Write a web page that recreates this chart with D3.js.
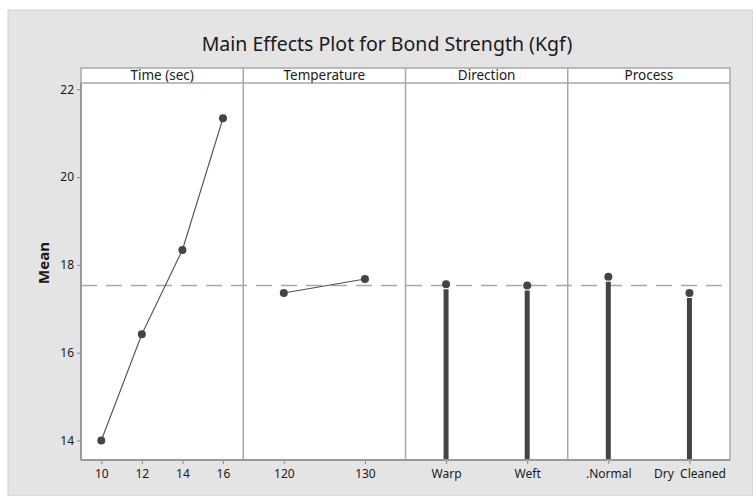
<!DOCTYPE html>
<html>
<head>
<meta charset="utf-8">
<script src="https://cdn.jsdelivr.net/npm/d3@7"></script>
<style>
  body { margin: 0; background: #fff; }
  text { font-family: "Noto Sans", "DejaVu Sans", sans-serif; fill: #1a1a1a; white-space: pre; }
</style>
</head>
<body>
<div id="chart"></div>
<script>
// values
let factors = ["Time (sec)", "Temperature", "Direction", "Process"];
let timeLevels = ["10", "12", "14", "16"];
let timeMeans = [14.00, 16.42, 18.34, 21.34];
let tempLevels = ["120", "130"];
let tempMeans = [17.36, 17.68];
let dirLevels = ["Warp", "Weft"];
let dirMeans = [17.56, 17.53];
let procLevels = [".Normal", "Dry  Cleaned"];
let procMeans = [17.73, 17.36];
let grandMean = 17.53;
let yTicks = [14, 16, 18, 20, 22];

// panels: line = connect points, bars = the thick stems seen in the original
let panels = [
    {name: factors[0], levels: timeLevels, means: timeMeans, style: "line"},
    {name: factors[1], levels: tempLevels, means: tempMeans, style: "line"},
    {name: factors[2], levels: dirLevels, means: dirMeans, style: "bars"},
    {name: factors[3], levels: procLevels, means: procMeans, style: "bars"}
];

let width = 753, height = 496;
let plot = {left: 81, right: 730, top: 83, bottom: 460, stripTop: 68};

let svg = d3.select("#chart")
    .append("svg")
    .attr("width", width)
    .attr("height", height);

// grey background
svg.append("rect")
    .attr("x", 8).attr("y", 10)
    .attr("width", width - 8).attr("height", height - 10)
    .attr("fill", "#e4e4e4")
    .attr("stroke", "#d0d0d0");

// title
svg.append("text")
    .attr("x", 387)
    .attr("y", 51)
    .style("text-anchor", "middle")
    .style("font-size", "19.5px")
    .text("Main Effects Plot for Bond Strength (Kgf)");

let y = d3.scaleLinear()
    .domain([13.556, 22.143])
    .range([plot.bottom, plot.top]);

let panelX = d3.scaleBand()
    .domain(factors)
    .range([plot.left, plot.right])
    .paddingInner(0).paddingOuter(0);

// white plot area + strip
svg.append("rect")
    .attr("x", plot.left).attr("y", plot.stripTop)
    .attr("width", plot.right - plot.left)
    .attr("height", plot.bottom - plot.stripTop)
    .attr("fill", "#fff");

// y axis
let yAxis = svg.append("g")
    .attr("transform", `translate(${plot.left}, 0)`)
    .call(d3.axisLeft(y).tickValues(yTicks).tickSize(4).tickPadding(3));
yAxis.select(".domain").remove();
yAxis.selectAll(".tick line").attr("stroke", "#888");
yAxis.selectAll("text").style("font-size", "12px").style("fill", "#1a1a1a");

// y label
svg.append("text")
    .attr("transform", `translate(49, 263) rotate(-90)`)
    .style("text-anchor", "middle")
    .style("font-size", "15px")
    .style("font-weight", "bold")
    .text("Mean");

// reference line at grand mean
svg.append("line")
    .attr("x1", plot.left).attr("x2", plot.right)
    .attr("y1", y(grandMean)).attr("y2", y(grandMean))
    .attr("stroke", "#a8a8a8")
    .attr("stroke-width", 1.5)
    .attr("stroke-dasharray", "16,9");

panels.forEach(function(p) {
    let x0 = panelX(p.name);
    let x = d3.scalePoint()
        .domain(p.levels)
        .range([x0, x0 + panelX.bandwidth()])
        .padding(0.5);

    // strip label
    svg.append("text")
        .attr("x", x0 + panelX.bandwidth() / 2)
        .attr("y", plot.stripTop + 12)
        .style("text-anchor", "middle")
        .style("font-size", "13.5px")
        .text(p.name);

    // x axis for this panel
    let xAxis = svg.append("g")
        .attr("transform", `translate(0, ${plot.bottom})`)
        .call(d3.axisBottom(x).tickSize(4).tickPadding(5));
    xAxis.select(".domain").remove();
    xAxis.selectAll(".tick line").attr("stroke", "#888");
    xAxis.selectAll("text").style("font-size", "12px").style("fill", "#1a1a1a");

    let pts = p.levels.map(function(d, i) { return {level: d, mean: p.means[i]}; });

    if (p.style == "line") {
        svg.append("path")
            .datum(pts)
            .attr("fill", "none")
            .attr("stroke", "#505050")
            .attr("stroke-width", 1.1)
            .attr("d", d3.line()
                .x(function(d) { return x(d.level); })
                .y(function(d) { return y(d.mean); }));
    } else {
        svg.selectAll(null)
            .data(pts)
            .enter()
            .append("line")
            .attr("x1", function(d) { return x(d.level); })
            .attr("x2", function(d) { return x(d.level); })
            .attr("y1", function(d) { return y(d.mean) + 5; })
            .attr("y2", plot.bottom)
            .attr("stroke", "#444")
            .attr("stroke-width", 5);
    }

    svg.selectAll(null)
        .data(pts)
        .enter()
        .append("circle")
        .attr("cx", function(d) { return x(d.level); })
        .attr("cy", function(d) { return y(d.mean); })
        .attr("r", 4)
        .attr("fill", "#444");
});

// panel borders
let frame = svg.append("g")
    .attr("fill", "none")
    .attr("stroke", "#a8a8a8");
frame.append("rect")
    .attr("x", plot.left).attr("y", plot.stripTop)
    .attr("width", plot.right - plot.left)
    .attr("height", plot.bottom - plot.stripTop)
    .attr("stroke-width", 1.5);
frame.append("line")
    .attr("x1", plot.left).attr("x2", plot.right)
    .attr("y1", plot.top).attr("y2", plot.top)
    .attr("stroke-width", 1.5);
factors.slice(1).forEach(function(f) {
    frame.append("line")
        .attr("x1", panelX(f)).attr("x2", panelX(f))
        .attr("y1", plot.stripTop).attr("y2", plot.bottom)
        .attr("stroke-width", 1.5);
});
// slightly darker axis lines (left and bottom)
frame.append("line")
    .attr("x1", plot.left).attr("x2", plot.left)
    .attr("y1", plot.top).attr("y2", plot.bottom)
    .attr("stroke", "#999").attr("stroke-width", 2);
frame.append("line")
    .attr("x1", plot.left).attr("x2", plot.right)
    .attr("y1", plot.bottom).attr("y2", plot.bottom)
    .attr("stroke", "#999").attr("stroke-width", 2);
</script>
</body>
</html>
